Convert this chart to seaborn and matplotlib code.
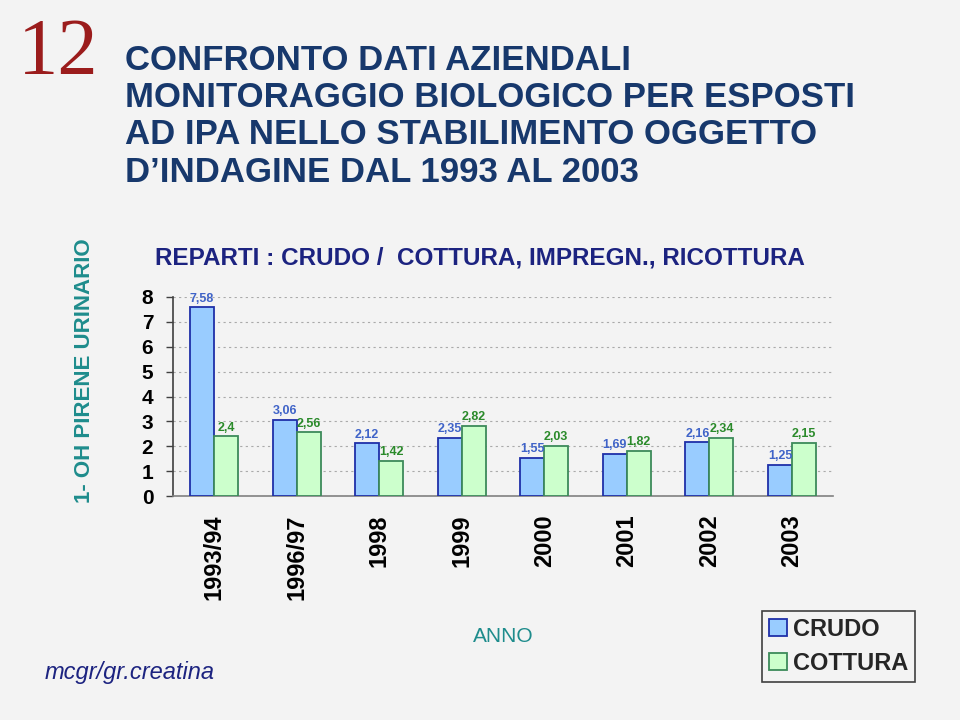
import matplotlib
matplotlib.use("Agg")
import matplotlib.pyplot as plt
from matplotlib.patches import Patch
from matplotlib.ticker import FixedLocator
import seaborn as sns
import pandas as pd

# ---- data ----
anni = ["1993/94", "1996/97", "1998", "1999", "2000", "2001", "2002", "2003"]
crudo = [7.58, 3.06, 2.12, 2.35, 1.55, 1.69, 2.16, 1.25]
cottura = [2.4, 2.56, 1.42, 2.82, 2.03, 1.82, 2.34, 2.15]
reparti = ["CRUDO", "COTTURA"]
yticks = [0, 1, 2, 3, 4, 5, 6, 7, 8]

BG = "#F3F3F3"
sns.set_style("white", {"axes.facecolor": BG, "figure.facecolor": BG})
plt.rcParams["font.family"] = ["Liberation Sans", "DejaVu Sans"]

df = pd.DataFrame({
    "anno": anni * 2,
    "valore": crudo + cottura,
    "reparto": [reparti[0]] * len(anni) + [reparti[1]] * len(anni),
})

fig = plt.figure(figsize=(9.6, 7.2), dpi=100)
fig.patch.set_facecolor(BG)
ax = fig.add_axes([0.180, 0.311, 0.688, 0.2765])
ax.set_facecolor(BG)

fills = ["#99CCFF", "#CCFFCC"]
edges = ["#1F2FA8", "#3C8A5A"]
lblcol = ["#3F63C8", "#2A8A2A"]

sns.barplot(data=df, x="anno", y="valore", hue="reparto", order=anni,
            hue_order=reparti, palette=fills, width=0.58, saturation=1,
            linewidth=1.3, ax=ax, legend=False, zorder=3)

for i, cont in enumerate(ax.containers):
    for p in cont.patches:
        p.set_edgecolor(edges[i])
        p.set_linewidth(1.3)
    vals = crudo if i == 0 else cottura
    ax.bar_label(cont, labels=[str(v).replace(".", ",") for v in vals],
                 padding=2, fontsize=9, fontweight="bold", color=lblcol[i],
                 zorder=4)

ax.set_ylim(0, 8)
ax.set_xlim(-0.5, len(anni) - 0.5)
ax.yaxis.set_major_locator(FixedLocator(yticks))
ax.set_yticklabels([str(t) for t in yticks], fontsize=15, fontweight="bold",
                   color="black")
ax.yaxis.grid(True, linestyle=(0, (2, 3)), color="#AAAAAA", linewidth=0.8,
              zorder=0)
ax.xaxis.grid(False)
ax.set_xlabel("")
ax.set_ylabel("")

ax.set_xticks(range(len(anni)))
ax.set_xticklabels(anni, rotation=90, fontsize=17, fontweight="bold",
                   va="top", color="black")
ax.tick_params(axis="x", which="major", length=0, pad=13)
ax.xaxis.set_minor_locator(FixedLocator([i - 0.5 for i in range(len(anni) + 1)]))
ax.tick_params(axis="x", which="minor", length=5, color="#808080", width=1,
               direction="out")
ax.tick_params(axis="y", which="major", length=5, color="#404040", width=1,
               direction="out", pad=9, left=True)

for s in ["top", "right"]:
    ax.spines[s].set_visible(False)
ax.spines["left"].set_color("#404040")
ax.spines["left"].set_linewidth(1.2)
ax.spines["bottom"].set_color("#808080")
ax.spines["bottom"].set_linewidth(1.2)

# ---- texts ----
fig.text(18 / 960, 1 - 55 / 720, "12", family="Liberation Serif",
         fontsize=58, color="#9B1C1C", va="center", ha="left")
titolo = ["CONFRONTO DATI AZIENDALI",
          "MONITORAGGIO BIOLOGICO PER ESPOSTI",
          "AD IPA NELLO STABILIMENTO OGGETTO",
          "D’INDAGINE DAL 1993 AL 2003"]
for k, line in enumerate(titolo):
    fig.text(125 / 960, 1 - (60 + 37.5 * k) / 720, line, fontsize=25,
             fontweight="bold", color="#17386C", va="center", ha="left")

fig.text(155 / 960, 1 - 258 / 720,
         "REPARTI : CRUDO /  COTTURA, IMPREGN., RICOTTURA",
         fontsize=17.5, fontweight="bold", color="#1C2380", va="center",
         ha="left")
fig.text(85 / 960, 1 - 371 / 720, "1- OH PIRENE URINARIO", rotation=90,
         fontsize=16, fontweight="bold", color="#1E8C8C", va="center",
         ha="center")
fig.text(503 / 960, 1 - 637 / 720, "ANNO", fontsize=15, color="#1E8C8C",
         va="center", ha="center")
fig.text(45 / 960, 1 - 672 / 720, "mcgr/gr.creatina", fontsize=17,
         style="italic", color="#1C2380", va="center", ha="left")

handles = [Patch(facecolor=fills[i], edgecolor=edges[i], linewidth=1.3)
           for i in range(2)]
leg = fig.legend(handles, reparti, loc="upper left",
                 bbox_to_anchor=(762 / 960, 1 - 611 / 720),
                 borderaxespad=0, frameon=True, fancybox=False,
                 edgecolor="#404040", facecolor=BG, framealpha=1,
                 handlelength=0.75, handleheight=0.75, handletextpad=0.25,
                 borderpad=0.3, labelspacing=0.45,
                 prop={"size": 17, "weight": "bold"})
leg.get_frame().set_linewidth(1.2)

fig.savefig("out.png", dpi=100, facecolor=BG)
